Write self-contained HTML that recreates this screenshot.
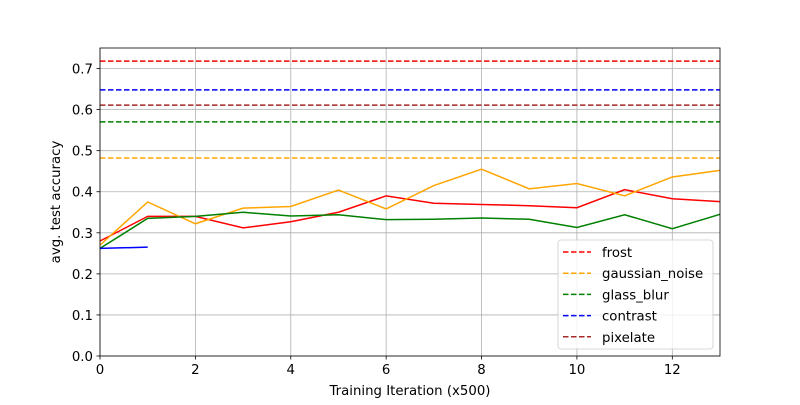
<!DOCTYPE html>
<html><head><meta charset="utf-8"><style>
body{margin:0;background:#fff}
svg{font-family:"DejaVu Sans","Liberation Sans",sans-serif}
</style></head><body>
<svg id="chart" width="800" height="400"></svg>
<script>
const iters=[0,1,2,3,4,5,6,7,8,9,10,11,12,13];
const frostVals=[0.28,0.34,0.34,0.312,0.327,0.35,0.39,0.372,0.369,0.366,0.361,0.405,0.383,0.376];
const gaussVals=[0.27,0.375,0.322,0.36,0.364,0.404,0.358,0.415,0.455,0.407,0.42,0.39,0.436,0.452];
const glassVals=[0.262,0.335,0.34,0.35,0.341,0.344,0.332,0.333,0.336,0.333,0.313,0.344,0.31,0.345];
const contrastVals=[0.262,0.265];
const baselineNames=["frost","gaussian_noise","glass_blur","contrast","pixelate"];
const baselineVals=[0.718,0.482,0.57,0.648,0.611];
const colors=["red","orange","green","blue","brown"];
const xTicks=[0,2,4,6,8,10,12];
const yTicks=[0.0,0.1,0.2,0.3,0.4,0.5,0.6,0.7];

const L=100,R=720,T=48,B=356,xMax=13,yMax=0.75;
const X=v=>L+v/xMax*(R-L), Y=v=>B-v/yMax*(B-T);
const svg=document.getElementById('chart');
const NS='http://www.w3.org/2000/svg';
function mk(tag,attrs,parent){const e=document.createElementNS(NS,tag);for(const k in attrs)e.setAttribute(k,attrs[k]);(parent||svg).appendChild(e);return e;}

xTicks.forEach(t=>{
  const g=mk('line',{x1:X(t),x2:X(t),y1:T,y2:B,stroke:'#b0b0b0','stroke-width':0.8});
  
  
  mk('line',{x1:X(t),x2:X(t),y1:B,y2:B+3.5,stroke:'#000','stroke-width':0.8});
  const tx=mk('text',{x:X(t),y:B+18,'text-anchor':'middle','font-size':13.3});
  tx.textContent=t;
  
  
});
yTicks.forEach(t=>{
  const g=mk('line',{x1:L,x2:R,y1:Y(t),y2:Y(t),stroke:'#b0b0b0','stroke-width':0.8});
  
  
  mk('line',{x1:L-3.5,x2:L,y1:Y(t),y2:Y(t),stroke:'#000','stroke-width':0.8});
  const tx=mk('text',{x:L-7,y:Y(t)+5,'text-anchor':'end','font-size':13.3});
  tx.textContent=t.toFixed(1);
  
  
});

baselineVals.forEach((v,i)=>{
  const l=mk('line',{x1:L,x2:R,y1:Y(v),y2:Y(v),stroke:colors[i],'stroke-width':1.5,'stroke-dasharray':'5.5,2.5'});
  
  
});

function series(vals,color,name){
  const p=mk('polyline',{points:vals.map((v,i)=>X(iters[i])+','+Y(v)).join(' '),fill:'none',stroke:color,'stroke-width':1.5});
  
  
}
series(frostVals,'red','frost-line');
series(gaussVals,'orange','gaussian-noise-line');
series(glassVals,'green','glass-blur-line');
series(contrastVals,'blue','contrast-line');

const fr=mk('rect',{x:L,y:T,width:R-L,height:B-T,fill:'none',stroke:'#000','stroke-width':0.8});



const lg=mk('g',{});


mk('rect',{x:558,y:240,width:155,height:109,rx:3,fill:'#fff','fill-opacity':0.8,stroke:'#ccc','stroke-width':0.8},lg);
baselineNames.forEach((n,i)=>{
  const y=252+i*21.2;
  const e=mk('g',{},lg);
  
  
  mk('line',{x1:563,x2:591,y1:y,y2:y,stroke:colors[i],'stroke-width':1.5,'stroke-dasharray':'5.5,2.5'},e);
  const t=mk('text',{x:602,y:y+5,'font-size':13.3},e);
  t.textContent=n;
});

const xt=mk('text',{x:(L+R)/2,y:395,'text-anchor':'middle','font-size':13.3});
xt.textContent='Training Iteration (x500)';


const yt=mk('text',{x:0,y:0,'text-anchor':'middle','font-size':13.3,transform:'translate(60,'+((T+B)/2)+') rotate(-90)'});
yt.textContent='avg. test accuracy';


</script>
</body></html>
